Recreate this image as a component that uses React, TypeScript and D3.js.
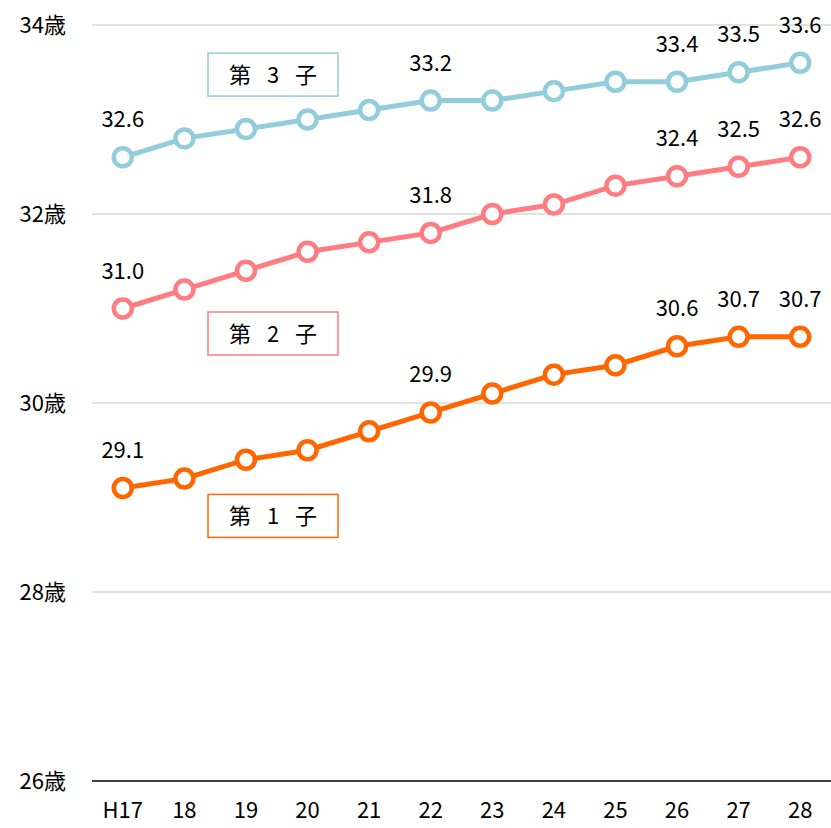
import React from "react";
import * as d3 from "d3";

const years = ["H17", "18", "19", "20", "21", "22", "23", "24", "25", "26", "27", "28"];
const first = [29.1, 29.2, 29.4, 29.5, 29.7, 29.9, 30.1, 30.3, 30.4, 30.6, 30.7, 30.7];
const second = [31.0, 31.2, 31.4, 31.6, 31.7, 31.8, 32.0, 32.1, 32.3, 32.4, 32.5, 32.6];
const third = [32.6, 32.8, 32.9, 33.0, 33.1, 33.2, 33.2, 33.3, 33.4, 33.4, 33.5, 33.6];
const yTicks = [26, 28, 30, 32, 34];
const labelIdx = [0, 5, 9, 10, 11];

const seriesList = [
  { name: ["第", "1", "子"], values: first, color: "#FF6600", legendY: 28.8 },
  { name: ["第", "2", "子"], values: second, color: "#FF7C80", legendY: 30.73 },
  { name: ["第", "3", "子"], values: third, color: "#92CDDC", legendY: 33.47 },
];

const App = () => {
  const ref = React.useRef<SVGSVGElement>(null);

  React.useEffect(() => {
    const width = 831;
    const height = 828;
    const margin = { left: 92, right: 0, top: 25, bottom: 47 };
    const font = "'Noto Sans CJK JP', 'Noto Sans', sans-serif";
    const fs = 22;

    const svg = d3.select(ref.current);
    svg.selectAll("*").remove();

    const x = d3.scaleBand<string>()
      .domain(years)
      .range([margin.left, width - margin.right]);
    const y = d3.scaleLinear()
      .domain([26, 34])
      .range([height - margin.bottom, margin.top]);
    const cx = (d: string) => (x(d) as number) + x.bandwidth() / 2;

    // grid
    svg.append("g")
      .selectAll("line")
      .data(yTicks)
      .join("line")
      .attr("x1", margin.left)
      .attr("x2", width - margin.right)
      .attr("y1", d => y(d))
      .attr("y2", d => y(d))
      .attr("stroke", d => (d === 26 ? "#000" : "#d9d9d9"))
      .attr("stroke-width", 1.5);

    // y labels
    svg.append("g")
      .selectAll("text")
      .data(yTicks)
      .join("text")
      .attr("x", 66)
      .attr("y", d => y(d))
      .attr("dy", "0.35em")
      .attr("text-anchor", "end")
      .attr("font-family", font)
      .attr("font-size", fs)
      .attr("fill", "#000")
      .text(d => `${d}歳`);

    // x labels
    svg.append("g")
      .selectAll("text")
      .data(years)
      .join("text")
      .attr("x", d => cx(d))
      .attr("y", 818)
      .attr("text-anchor", "middle")
      .attr("font-family", font)
      .attr("font-size", fs)
      .attr("fill", "#000")
      .text(d => d);

    const line = d3.line<number>()
      .x((d, i) => cx(years[i]))
      .y(d => y(d));

    seriesList.forEach(s => {
      const g = svg.append("g");
      g.append("path")
        .attr("d", line(s.values))
        .attr("fill", "none")
        .attr("stroke", s.color)
        .attr("stroke-width", 5);
      g.selectAll("circle")
        .data(s.values)
        .join("circle")
        .attr("cx", (d, i) => cx(years[i]))
        .attr("cy", d => y(d))
        .attr("r", 9)
        .attr("fill", "#fff")
        .attr("stroke", s.color)
        .attr("stroke-width", 4.5);
      g.selectAll("text")
        .data(labelIdx)
        .join("text")
        .attr("x", i => cx(years[i]))
        .attr("y", i => y(s.values[i]) - 30)
        .attr("text-anchor", "middle")
        .attr("font-family", font)
        .attr("font-size", fs)
        .attr("fill", "#000")
        .text(i => s.values[i].toFixed(1));

      // legend box
      const lx = 208;
      const cy = y(s.legendY);
      g.append("rect")
        .attr("x", lx)
        .attr("y", cy - 22)
        .attr("width", 130)
        .attr("height", 43)
        .attr("fill", "#fff")
        .attr("stroke", s.color)
        .attr("stroke-width", 1.5);
      g.selectAll("text.lg")
        .data(s.name)
        .join("text")
        .attr("class", "lg")
        .attr("x", (d, i) => lx + 32 + i * 33)
        .attr("y", cy)
        .attr("dy", "0.35em")
        .attr("text-anchor", "middle")
        .attr("font-family", font)
        .attr("font-size", fs)
        .attr("fill", "#000")
        .text(d => d);
    });
  }, []);

  return <svg ref={ref} width={831} height={828} style={{ position: "absolute", left: 0, top: 0 }} />;
};

export default App;
